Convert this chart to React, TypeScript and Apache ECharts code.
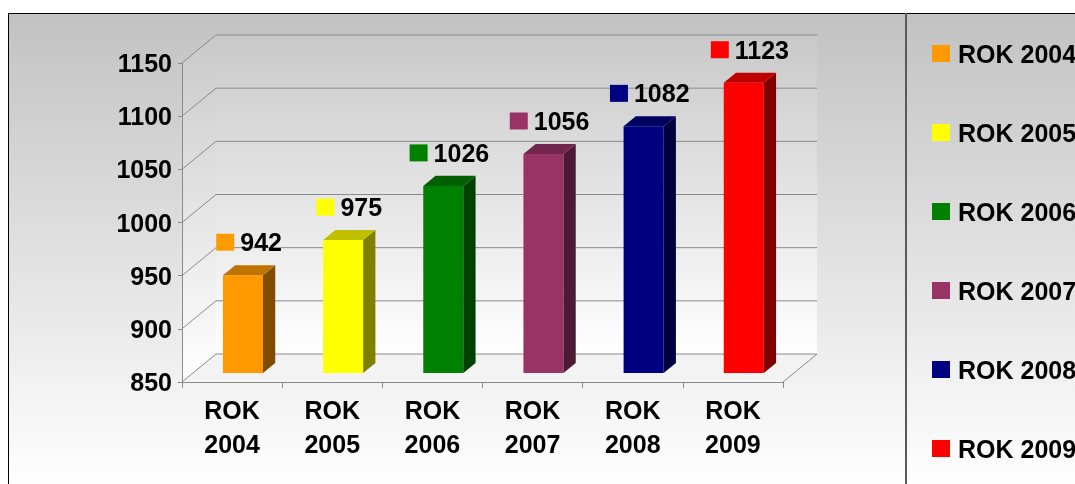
import React, { useEffect, useRef } from "react";
import * as echarts from "echarts";

const categories = ["ROK 2004", "ROK 2005", "ROK 2006", "ROK 2007", "ROK 2008", "ROK 2009"];
const values = [942, 975, 1026, 1056, 1082, 1123];
const barColors = ["#FF9900", "#FFFF00", "#008000", "#993366", "#000080", "#FF0000"];
const yTicks = [850, 900, 950, 1000, 1050, 1100, 1150];
const Y_MIN = 850;
const Y_MAX = 1150;
const Y_STEP = 50;

const DEPTH_X = 34;
const DEPTH_Y = -28;
const BAR_SHIFT = 0.32;
const BAR_DEPTH = 0.36;
const FONT = "'Liberation Sans', Arial, Helvetica, sans-serif";
const GRID_COLOR = "#8a8a8a";

function shade(hex: string, k: number): string {
  const n = parseInt(hex.slice(1), 16);
  const r = Math.round(((n >> 16) & 255) * k);
  const g = Math.round(((n >> 8) & 255) * k);
  const b = Math.round((n & 255) * k);
  return `rgb(${r},${g},${b})`;
}

function wallGradient() {
  return new echarts.graphic.LinearGradient(0, 0, 0, 1, [
    { offset: 0, color: "#c9c9c9" },
    { offset: 1, color: "#ffffff" },
  ]);
}

function renderWalls(params: any, api: any) {
  const cs = params.coordSys;
  const left = cs.x;
  const right = cs.x + cs.width;
  const top = cs.y;
  const bottom = cs.y + cs.height;
  const y = api.coord([0, api.value(1)])[1];
  const children: any[] = [];
  if (params.dataIndex === 0) {
    children.push({
      type: "polygon",
      shape: { points: [[left, top], [left + DEPTH_X, top + DEPTH_Y], [left + DEPTH_X, bottom + DEPTH_Y], [left, bottom]] },
      style: { fill: wallGradient() },
    });
    children.push({
      type: "rect",
      shape: { x: left + DEPTH_X, y: top + DEPTH_Y, width: cs.width, height: cs.height },
      style: { fill: wallGradient() },
    });
    children.push({
      type: "polygon",
      shape: { points: [[left, bottom], [right, bottom], [right + DEPTH_X, bottom + DEPTH_Y], [left + DEPTH_X, bottom + DEPTH_Y]] },
      style: { fill: "#f3f3f3" },
    });
    children.push({
      type: "line",
      shape: { x1: right, y1: bottom, x2: right + DEPTH_X, y2: bottom + DEPTH_Y },
      style: { stroke: GRID_COLOR, lineWidth: 1 },
    });
  }
  children.push({
    type: "line",
    shape: { x1: left, y1: y, x2: left + DEPTH_X, y2: y + DEPTH_Y },
    style: { stroke: GRID_COLOR, lineWidth: 1 },
  });
  children.push({
    type: "line",
    shape: { x1: left + DEPTH_X, y1: y + DEPTH_Y, x2: right + DEPTH_X, y2: y + DEPTH_Y },
    style: { stroke: GRID_COLOR, lineWidth: 1 },
  });
  return { type: "group", children };
}

function makeRenderBar(color: string) {
  return function renderBar(params: any, api: any) {
    const idx = api.value(0);
    const val = api.value(1);
    const p0 = api.coord([idx, Y_MIN]);
    const p1 = api.coord([idx, val]);
    const band = api.size([1, 0])[0];
    const bw = band * 0.4;
    const ox = DEPTH_X * BAR_SHIFT;
    const oy = DEPTH_Y * BAR_SHIFT;
    const dx = DEPTH_X * BAR_DEPTH;
    const dy = DEPTH_Y * BAR_DEPTH;
    const x0 = p0[0] - bw / 2 + ox;
    const x1 = x0 + bw;
    const yb = p0[1] + oy;
    const yt = p1[1] + oy;
    return {
      type: "group",
      children: [
        {
          type: "rect",
          shape: { x: x0, y: yt, width: bw, height: yb - yt },
          style: { fill: color },
        },
        {
          type: "polygon",
          shape: { points: [[x1, yt], [x1 + dx, yt + dy], [x1 + dx, yb + dy], [x1, yb]] },
          style: { fill: shade(color, 0.5) },
        },
        {
          type: "polygon",
          shape: { points: [[x0, yt], [x0 + dx, yt + dy], [x1 + dx, yt + dy], [x1, yt]] },
          style: { fill: shade(color, 0.75) },
        },
        {
          type: "text",
          x: (x0 + x1 + dx) / 2,
          y: yt - 33,
          style: {
            text: `{sq|}{v|${val}}`,
            align: "center",
            verticalAlign: "middle",
            rich: {
              sq: { width: 18, height: 17, backgroundColor: color },
              v: { fontSize: 25, fontWeight: "bold", fontFamily: FONT, fill: "#000", padding: [0, 0, 0, 6] },
            },
          },
        },
      ],
    };
  };
}

export default function App() {
  const ref = useRef<HTMLDivElement>(null);
  useEffect(() => {
    if (!ref.current) return;
    const chart = echarts.init(ref.current, null, { renderer: "svg" });
    const barSeries = categories.map((name, i) => ({
      type: "custom",
      name,
      z: 3,
      itemStyle: { color: barColors[i] },
      renderItem: makeRenderBar(barColors[i]),
      data: [[i, values[i]]],
    }));
    const option: any = {
      animation: false,
      graphic: [
        {
          type: "rect",
          z: -100,
          silent: true,
          shape: { x: 8.5, y: 13.5, width: 1100, height: 500 },
          style: {
            fill: new echarts.graphic.LinearGradient(0, 0, 0, 1, [
              { offset: 0, color: "#c2c2c2" },
              { offset: 0.95, color: "#ffffff" },
              { offset: 1, color: "#ffffff" },
            ]),
            stroke: "#000",
            lineWidth: 1,
          },
        },
        {
          type: "line",
          z: -90,
          silent: true,
          shape: { x1: 906, y1: 13, x2: 906, y2: 484 },
          style: { stroke: "#5a5a5a", lineWidth: 2 },
        },
      ],
      grid: { left: 182, top: 63, width: 601, height: 319, containLabel: false },
      legend: {
        data: categories,
        orient: "vertical",
        left: 927,
        top: 36,
        itemWidth: 18,
        itemHeight: 17,
        itemGap: 54,
        icon: "rect",
        textStyle: { fontSize: 25, fontWeight: "bold", color: "#000", fontFamily: FONT, padding: [0, 0, 0, 3] },
      },
      xAxis: {
        type: "category",
        data: categories,
        z: 10,
        axisLine: { show: true, lineStyle: { color: GRID_COLOR, width: 1 } },
        axisTick: { show: true, length: 6, lineStyle: { color: GRID_COLOR } },
        axisLabel: {
          formatter: (v: string) => v.replace(" ", "\n"),
          fontSize: 25,
          fontWeight: "bold",
          fontFamily: FONT,
          color: "#000",
          lineHeight: 34,
          margin: 11,
        },
        splitLine: { show: false },
      },
      yAxis: {
        type: "value",
        min: Y_MIN,
        max: Y_MAX,
        interval: Y_STEP,
        z: 10,
        axisLine: { show: true, lineStyle: { color: GRID_COLOR, width: 1 } },
        axisTick: { show: true, length: 4, lineStyle: { color: GRID_COLOR } },
        axisLabel: {
          formatter: (v: number) => String(v),
          fontSize: 25,
          fontWeight: "bold",
          fontFamily: FONT,
          color: "#000",
          margin: 10,
        },
        splitLine: { show: false },
      },
      series: [
        {
          type: "custom",
          name: "walls",
          z: 1,
          silent: true,
          itemStyle: { color: "#8a8a8a" },
          renderItem: renderWalls,
          data: yTicks.map((t) => [0, t]),
        },
        ...barSeries,
      ],
    };
    chart.setOption(option);
    return () => chart.dispose();
  }, []);
  return <div ref={ref} style={{ position: "fixed", left: 0, top: 0, width: 1075, height: 484 }} />;
}
